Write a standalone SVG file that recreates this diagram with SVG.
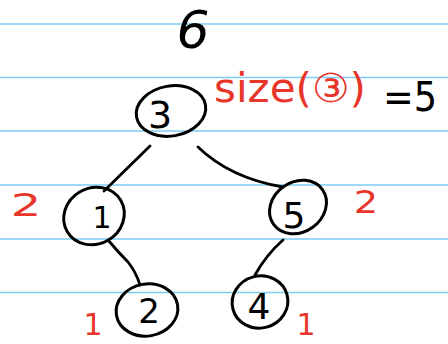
<svg xmlns="http://www.w3.org/2000/svg" width="448" height="344" viewBox="0 0 448 344">
<style>
.rule{stroke:#7ccdf4;stroke-width:1.6}
.node{fill:none;stroke:#000;stroke-width:3}
.edge{fill:none;stroke:#000;stroke-width:2.8;stroke-linecap:round}
.d{font-family:"DejaVu Sans",sans-serif;fill:#000;text-anchor:middle}
.r{font-family:"DejaVu Sans",sans-serif;fill:#e8352a;text-anchor:middle}
</style>
<rect width="448" height="344" fill="#fff"/>
<g id="rules">
<line class="rule" x1="0" y1="24" x2="448" y2="24"/>
<line class="rule" x1="0" y1="77.5" x2="448" y2="77.5"/>
<line class="rule" x1="0" y1="131" x2="448" y2="131"/>
<line class="rule" x1="0" y1="185" x2="448" y2="185"/>
<line class="rule" x1="0" y1="239" x2="448" y2="239"/>
<line class="rule" x1="0" y1="292.5" x2="448" y2="292.5"/>
</g>
<g id="connectors">
<path class="edge" d="M150,146 L104,191"/>
<path class="edge" d="M198,147 Q230,178 283,187" stroke-width="3.4"/>
<path class="edge" d="M108,240 Q118,252 128,262 Q136,272 140,285"/>
<path class="edge" d="M283,240 Q266,255 255,275"/>
</g>
<g id="node-3">
<ellipse class="node" cx="171" cy="111" rx="35" ry="25" transform="rotate(-10 171 111)"/>
<text class="d" x="160" y="128" font-size="38">3</text>
</g>
<g id="node-1">
<ellipse class="node" cx="94" cy="216" rx="31" ry="28" transform="rotate(-30 94 216)"/>
<text class="d" x="102" y="228" font-size="30">1</text>
</g>
<g id="node-5">
<ellipse class="node" cx="298" cy="207" rx="30" ry="25" transform="rotate(-35 298 207)"/>
<text class="d" x="294" y="228" font-size="36">5</text>
</g>
<g id="node-2">
<ellipse class="node" cx="147" cy="310" rx="31" ry="26" transform="rotate(-10 147 310)"/>
<text class="d" x="149" y="323" font-size="34">2</text>
</g>
<g id="node-4">
<ellipse class="node" cx="260" cy="302" rx="28" ry="26" transform="rotate(-15 260 302)"/>
<text class="d" x="259" y="319" font-size="36">4</text>
</g>
<g id="labels">
<text class="d" x="193" y="48" font-size="52" font-style="italic">6</text>
<text class="r" x="290" y="102" font-size="40" textLength="152" lengthAdjust="spacingAndGlyphs">size(③)</text>
<text class="d" x="410" y="111" font-size="40" textLength="54" lengthAdjust="spacingAndGlyphs">=5</text>
<text class="r" x="26" y="216" font-size="32" transform="translate(26 216) scale(1.5 1) translate(-26 -216)">2</text>
<text class="r" x="366" y="213" font-size="32" transform="translate(366 213) scale(1.2 1) translate(-366 -213)">2</text>
<text class="r" x="93" y="335" font-size="30">1</text>
<text class="r" x="306" y="335" font-size="30">1</text>
</g>
</svg>
